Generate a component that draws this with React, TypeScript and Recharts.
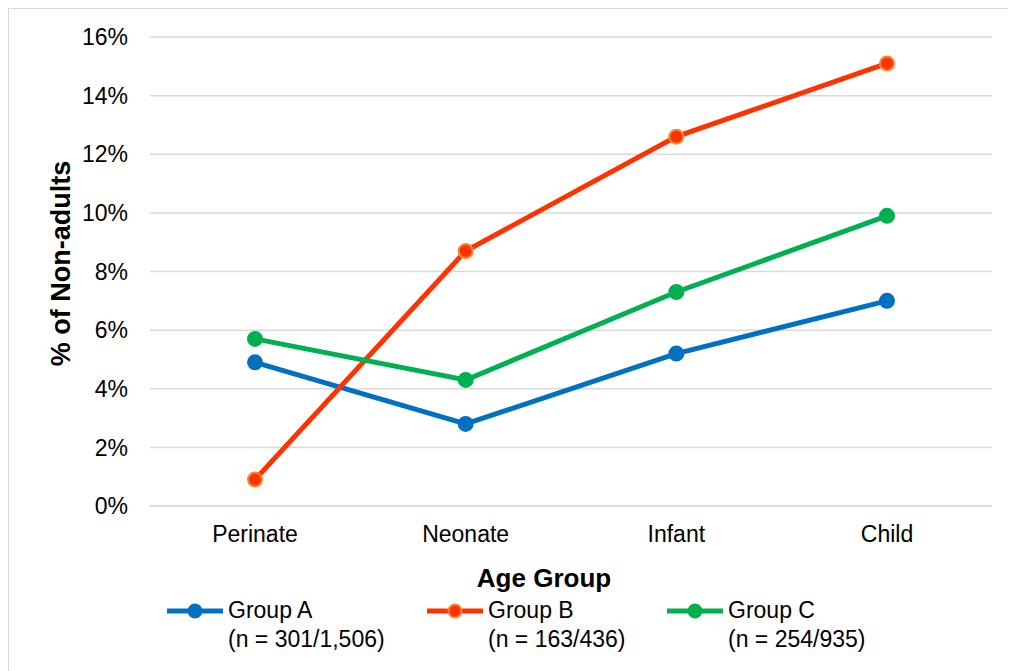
import React from 'react';
import { LineChart, Line, XAxis, YAxis, CartesianGrid, Label } from 'recharts';

const categories = ['Perinate', 'Neonate', 'Infant', 'Child'];
const groupA = [4.9, 2.8, 5.2, 7.0];
const groupB = [0.9, 8.7, 12.6, 15.1];
const groupC = [5.7, 4.3, 7.3, 9.9];
const yTicks = [0, 2, 4, 6, 8, 10, 12, 14, 16];

const seriesNames = ['Group A', 'Group B', 'Group C'];
const seriesCounts = ['(n = 301/1,506)', '(n = 163/436)', '(n = 254/935)'];

const FONT = '"Liberation Sans", Arial, sans-serif';

const series = [
  { key: 'a', name: seriesNames[0], n: seriesCounts[0], color: '#0070C0', outline: '#0070C0', left: 158 },
  { key: 'b', name: seriesNames[1], n: seriesCounts[1], color: '#FF3300', outline: '#F58634', left: 418 },
  { key: 'c', name: seriesNames[2], n: seriesCounts[2], color: '#00B050', outline: '#00B050', left: 658 },
];

const data = categories.map((cat, i) => ({
  cat,
  a: groupA[i],
  b: groupB[i],
  c: groupC[i],
}));

const LegendIcon = ({ color, outline }: { color: string; outline: string }) => (
  <svg width={58} height={29} style={{ display: 'block' }}>
    <line x1={0} y1={15} x2={56} y2={15} stroke={color} strokeWidth={5} />
    <circle cx={28} cy={15} r={6.5} fill={color} stroke={outline} strokeWidth={2} />
  </svg>
);

const App: React.FC = () => {
  return (
    <div
      style={{
        position: 'relative',
        width: 1008,
        height: 663,
        borderTop: '1px solid #d9d9d9',
        borderLeft: '1px solid #d9d9d9',
        boxSizing: 'border-box',
        fontFamily: FONT,
      }}
    >
      <LineChart
        width={999}
        height={662}
        data={data}
        margin={{ top: 28, right: 16, left: 0, bottom: 84 }}
      >
        <CartesianGrid vertical={false} stroke="#d9d9d9" strokeWidth={1.5} />
        <XAxis
          dataKey="cat"
          height={81}
          padding={{ left: 105, right: 105 }}
          axisLine={{ stroke: '#d9d9d9', strokeWidth: 1.5 }}
          tickLine={false}
          tickSize={0}
          tickMargin={20}
          tick={{ fill: '#000', fontSize: 23, fontFamily: FONT }}
        >
          <Label
            value="Age Group"
            position="insideBottom"
            offset={0}
            dx={-27}
            style={{ fill: '#000', fontSize: 26, fontWeight: 'bold', fontFamily: FONT }}
          />
        </XAxis>
        <YAxis
          width={141}
          domain={[0, 16]}
          ticks={yTicks}
          tickFormatter={(v: number) => `${v}%`}
          axisLine={false}
          tickLine={false}
          tickSize={0}
          tickMargin={22}
          tick={{ fill: '#000', fontSize: 23, fontFamily: FONT }}
        >
          <Label
            value="% of Non-adults"
            angle={-90}
            position="center"
            dx={-19}
            dy={-8}
            style={{ fill: '#000', fontSize: 27, fontWeight: 'bold', fontFamily: FONT, textAnchor: 'middle' }}
          />
        </YAxis>
        {series.map((s) => (
          <Line
            key={s.key}
            dataKey={s.key}
            name={s.name}
            stroke={s.color}
            strokeWidth={5}
            dot={{ r: 7, fill: s.color, stroke: s.outline, strokeWidth: 2 }}
            activeDot={false}
            isAnimationActive={false}
          />
        ))}
      </LineChart>
      {series.map((s) => (
        <div
          key={s.key}
          style={{
            position: 'absolute',
            left: s.left,
            top: 587,
            display: 'flex',
            alignItems: 'flex-start',
            fontSize: 23,
            lineHeight: '29px',
            color: '#000',
          }}
        >
          <LegendIcon color={s.color} outline={s.outline} />
          <div style={{ marginLeft: 3 }}>
            <div>{s.name}</div>
            <div>{s.n}</div>
          </div>
        </div>
      ))}
    </div>
  );
};

export default App;
